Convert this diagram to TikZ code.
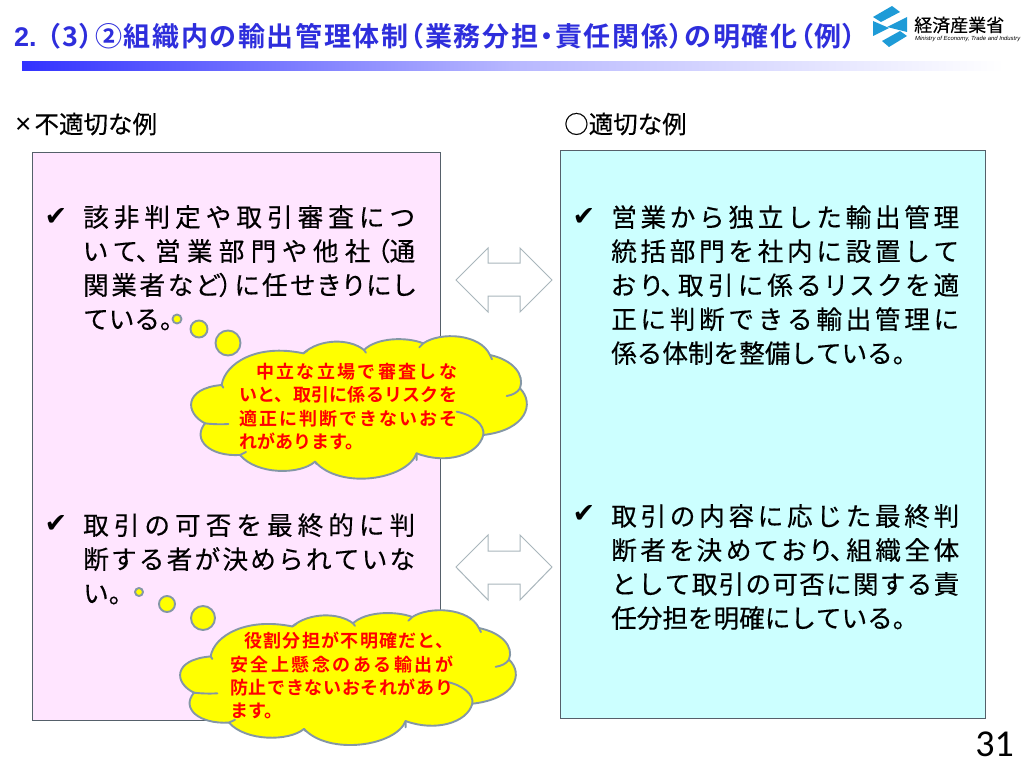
\documentclass[tikz,border=0pt]{standalone}
\usepackage{fontspec}
\setmainfont{Noto Sans CJK JP}[FakeBold=0.3]
\newfontfamily\pf{Noto Sans CJK JP}[RawFeature=+palt,FakeBold=0.3]
\newfontfamily\titlefont{Noto Sans CJK JP Bold}[RawFeature=+palt,LetterSpace=6.2]
\newfontfamily\redfont{Noto Sans CJK JP Bold}
\newfontfamily\latinfont{Liberation Sans}
\newfontfamily\latintitle{Liberation Sans Bold}
\newfontfamily\pagefont{Carlito}
\newfontfamily\chk{DejaVu Sans}
\usetikzlibrary{shadings}
\definecolor{titleblue}{HTML}{2E2EDC}
\definecolor{barblue}{HTML}{3333FF}
\definecolor{leftfill}{HTML}{FFE5FF}
\definecolor{rightfill}{HTML}{CCFFFF}
\definecolor{framegray}{HTML}{55606A}
\definecolor{cloudline}{HTML}{8497A6}
\definecolor{arrowline}{HTML}{A9B6BC}
\definecolor{logoblue}{HTML}{1E9BD7}
\definecolor{cloudfill}{HTML}{FFFF00}
\definecolor{redtxt}{HTML}{FF0000}
\XeTeXlinebreaklocale "ja"
\XeTeXlinebreakskip=0pt plus 4pt
\tikzset{
  x=1pt,y=-1pt,
  panel/.style={draw=framegray,line width=0.9pt},
  bodytext/.style={anchor=north west,inner sep=0pt,align=justify,font=\fontsize{25.6}{34}\selectfont},
  headtext/.style={anchor=west,inner sep=0pt,font=\fontsize{24.5}{28}\selectfont},
  checkmark/.style={anchor=center,inner sep=0pt,font=\chk\fontsize{27}{30}\selectfont},
  redtext/.style={anchor=north west,inner sep=0pt,align=justify,text=redtxt,font=\redfont\fontsize{18}{23.4}\selectfont},
  cloudstroke/.style={draw=cloudline,line width=1.9pt,line cap=round,line join=round},
  bubble/.style={circle,inner sep=0pt,fill=cloudfill,cloudstroke},
  dblarrow/.style={draw=arrowline,line width=1pt,fill=white,line join=miter},
}
\newcommand{\cloudoutline}{%
  (185,255) .. controls (195,190) and (290,130) .. (430,160)
  .. controls (480,115) and (570,115) .. (612,150)
  .. controls (650,112) and (740,110) .. (790,130)
  .. controls (840,95) and (960,100) .. (990,165)
  .. controls (1060,180) and (1095,225) .. (1080,265)
  .. controls (1125,310) and (1100,390) .. (970,405)
  .. controls (955,465) and (860,495) .. (770,460)
  .. controls (740,540) and (540,570) .. (465,485)
  .. controls (420,525) and (290,525) .. (240,465)
  .. controls (150,470) and (95,420) .. (135,370)
  .. controls (75,340) and (70,265) .. (185,255) -- cycle}
\newcommand{\cloudfolds}{%
  (185,255) -- (190,263)
  (135,370) .. controls (150,372) and (180,374) .. (205,372)
  (240,465) -- (258,456)
  (430,160) -- (442,152)
  (612,150) -- (618,158)
  (790,130) -- (778,142)
  (990,165) -- (996,178)
  (1080,265) .. controls (1072,278) and (1058,285) .. (1040,288)
  (970,405) .. controls (975,375) and (940,345) .. (890,335)
  (770,460) -- (770,480)
  (465,485) -- (470,492)}
\begin{document}
\begin{tikzpicture}
\useasboundingbox (0,0) rectangle (1024,768);
\fill[white] (0,0) rectangle (1024,768);

% title
\node[anchor=west,inner sep=0pt,text=titleblue,font=\titlefont\fontsize{27}{30}\selectfont] (title) at (14,36) {{\latintitle 2.} （3）②組織内の輸出管理体制（業務分担・責任関係）の明確化（例）};
\shade[left color=barblue,right color=white,middle color=barblue!35] (22,61) rectangle (1004,70);

% logo
\fill[logoblue] (873,17) -- (892,6) -- (900,12) -- (881,22) -- cycle;
\fill[logoblue] (873,21) -- (889,28) -- (873,36) -- cycle;
\fill[logoblue] (907,17) -- (887,27) -- (907,32) -- cycle;
\fill[logoblue] (907,36) -- (889,47) -- (882,41) -- (900,31) -- cycle;
\node[anchor=west,inner sep=0pt,font=\fontsize{18}{20}\selectfont] (logoja) at (914,25) {経済産業省};
\node[anchor=west,inner sep=0pt,font=\latinfont\itshape\fontsize{5.9}{7}\selectfont] (logoen) at (915,39) {Ministry of Economy, Trade and Industry};

% headings
\node[headtext] (badhead) at (15,124) {{\latinfont\fontsize{28}{28}\selectfont ×}\hspace{3pt}不適切な例};
\node[headtext] (goodhead) at (564,124) {○適切な例};

% panels
\node[panel,fill=leftfill,minimum width=408pt,minimum height=568pt,anchor=north west,inner sep=0pt] (leftpanel) at (32,152) {};
\node[panel,fill=rightfill,minimum width=425pt,minimum height=568pt,anchor=north west,inner sep=0pt] (rightpanel) at (560,150) {};

% double arrows
\draw[dblarrow] (456,280) -- (488,248) -- (488,263) -- (520,263) -- (520,248) -- (552,280) -- (520,312) -- (520,296) -- (488,296) -- (488,312) -- cycle;
\draw[dblarrow] (456,567) -- (488,535) -- (488,551) -- (520,551) -- (520,535) -- (552,567) -- (520,600) -- (520,584) -- (488,584) -- (488,600) -- cycle;

% left text
\node[checkmark] (c1) at (56,217) {✔};
\node[bodytext,text width=332pt] (l1) at (83,205) {該非判定や取引審査につ\linebreak {\pf いて、営業部門や他社（通}\linebreak {\pf 関業者など）に任せきりにし}\linebreak ている。};
\node[checkmark] (c2) at (56,524) {✔};
\node[bodytext,text width=332pt] (l2) at (83,513) {取引の可否を最終的に判\linebreak 断する者が決められていな\linebreak い。};

% right text
\node[checkmark] (c3) at (584,217) {✔};
\node[bodytext,text width=348pt] (r1) at (611,205) {営業から独立した輸出管理\linebreak 統括部門を社内に設置して\linebreak {\pf おり、取引に係るリスクを適}\linebreak 正に判断できる輸出管理に\linebreak 係る体制を整備している。};
\node[checkmark] (c4) at (584,514) {✔};
\node[bodytext,text width=348pt] (r2) at (611,504) {取引の内容に応じた最終判\linebreak {\pf 断者を決めており、組織全体}\linebreak として取引の可否に関する責\linebreak 任分担を明確にしている。};

% thought bubbles 1
\node[bubble,minimum size=9pt] (b11) at (177,319) {};
\node[bubble,minimum size=17pt] (b12) at (199,329) {};
\node[bubble,minimum size=25pt] (b13) at (228,343) {};
\begin{scope}[shift={(160,300)},x=0.3333pt,y=-0.3333pt]
  \path[fill=cloudfill,cloudstroke] \cloudoutline;
  \path[cloudstroke] \cloudfolds;
\end{scope}
\node[redtext,text width=218pt] (t1) at (239,363) {\hspace*{17pt}中立な立場で審査しな\linebreak いと、取引に係るリスクを\linebreak 適正に判断できないおそ\linebreak れがあります。};

% thought bubbles 2
\node[bubble,minimum size=8pt] (b21) at (139,592) {};
\node[bubble,minimum size=16pt] (b22) at (167,604) {};
\node[bubble,minimum size=24pt] (b23) at (203,618) {};
\begin{scope}[shift={(149,576)},x=0.3333pt,y=-0.3153pt]
  \path[fill=cloudfill,cloudstroke] \cloudoutline;
  \path[cloudstroke] \cloudfolds;
\end{scope}
\node[redtext,text width=223pt] (t2) at (230,632) {\hspace*{14pt}役割分担が不明確だと、\linebreak 安全上懸念のある輸出が\linebreak 防止できないおそれがあり\linebreak ます。};

% page number
\node[anchor=east,inner sep=0pt,font=\pagefont\fontsize{38}{40}\selectfont] (page) at (1014,744) {31};
\end{tikzpicture}
\end{document}
